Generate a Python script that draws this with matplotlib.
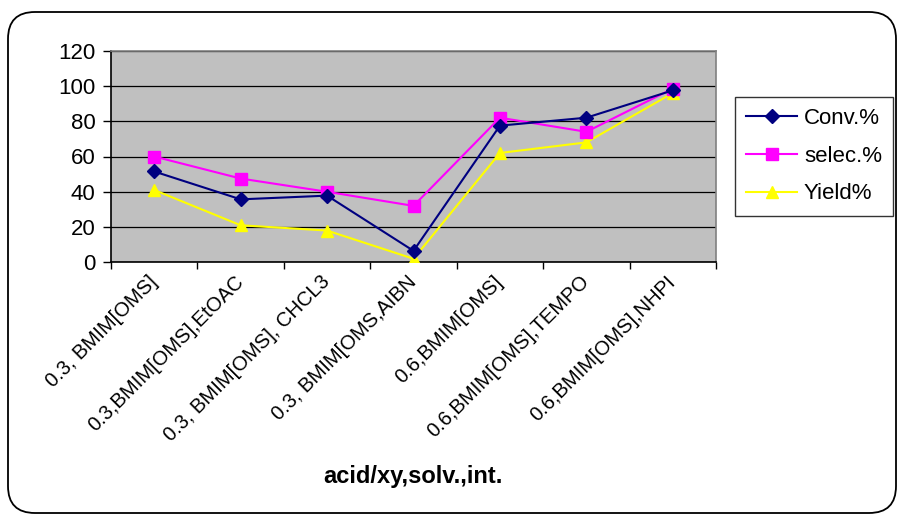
import matplotlib
matplotlib.use("Agg")
import matplotlib.pyplot as plt
from matplotlib.patches import FancyBboxPatch

plt.rcParams['font.family'] = ['Liberation Sans', 'DejaVu Sans']

categories = ["0.3, BMIM[OMS]", "0.3,BMIM[OMS],EtOAC", "0.3, BMIM[OMS], CHCL3",
              "0.3, BMIM[OMS,AIBN", "0.6,BMIM[OMS]", "0.6,BMIM[OMS],TEMPO",
              "0.6,BMIM[OMS],NHPI"]
conv = [51.5, 35.7, 37.8, 6.5, 77.5, 82, 97.5]
selec = [60, 47.5, 40, 32, 82, 74, 98.5]
yield_ = [41, 21, 18, 2, 62, 68, 96]
yticks = [0, 20, 40, 60, 80, 100, 120]

W, H = 897, 516
fig = plt.figure(figsize=(W / 100, H / 100), dpi=100)

# outer rounded border
border = FancyBboxPatch((8 / W, 3 / H), (896 - 8) / W, (504 - 3) / H,
                        boxstyle="round,pad=0,rounding_size=0.03",
                        transform=fig.transFigure, facecolor="none",
                        edgecolor="black", linewidth=1.3, zorder=0,
                        mutation_aspect=W / H)
fig.patches.append(border)

ax = fig.add_axes([111 / W, (H - 262.3) / H, 605 / W, 211.6 / H])
ax.set_zorder(2)
ax.set_facecolor("#C0C0C0")
x = list(range(len(categories)))

ax.plot(x, conv, color="#000080", marker="D", markersize=7, linewidth=1.5,
        label="Conv.%", zorder=5)
ax.plot(x, selec, color="#FF00FF", marker="s", markersize=8, linewidth=1.5,
        label="selec.%", zorder=4)
ax.plot(x, yield_, color="#FFFF00", marker="^", markersize=9, linewidth=1.5,
        label="Yield%", zorder=3)

ax.set_xlim(-0.5, len(categories) - 0.5)
ax.set_ylim(0, 120)
ax.set_yticks(yticks)
ax.set_yticklabels([str(v) for v in yticks], fontsize=16)
ax.yaxis.grid(True, color="black", linewidth=0.9)
ax.set_axisbelow(True)

ax.set_xticks(x)
ax.set_xticklabels(categories, rotation=45, ha="right", va="center",
                   rotation_mode="anchor", fontsize=14.5)
ax.tick_params(axis="x", which="major", length=0, pad=12)
ax.set_xticks([i - 0.5 for i in range(len(categories) + 1)], minor=True)
ax.tick_params(axis="x", which="minor", length=5, width=1, color="black")
ax.tick_params(axis="y", length=6, width=1, pad=5, color="black")

for s in ["top", "right"]:
    ax.spines[s].set_color("#808080")
    ax.spines[s].set_linewidth(1.2)
for s in ["left", "bottom"]:
    ax.spines[s].set_color("black")
    ax.spines[s].set_linewidth(1.2)

fig.text(413 / W, 1 - 476 / H, "acid/xy,solv.,int.", ha="center", va="center",
         fontsize=17, fontweight="bold")

leg = fig.legend(loc="upper left", bbox_to_anchor=(735 / W, 1 - 97 / H),
                 fontsize=16, frameon=True, fancybox=False, borderaxespad=0,
                 handlelength=2.3, handletextpad=0.3, labelspacing=0.75,
                 borderpad=0.5)
leg.get_frame().set_edgecolor("black")
leg.get_frame().set_linewidth(1.0)

fig.savefig("out.png", dpi=100)
